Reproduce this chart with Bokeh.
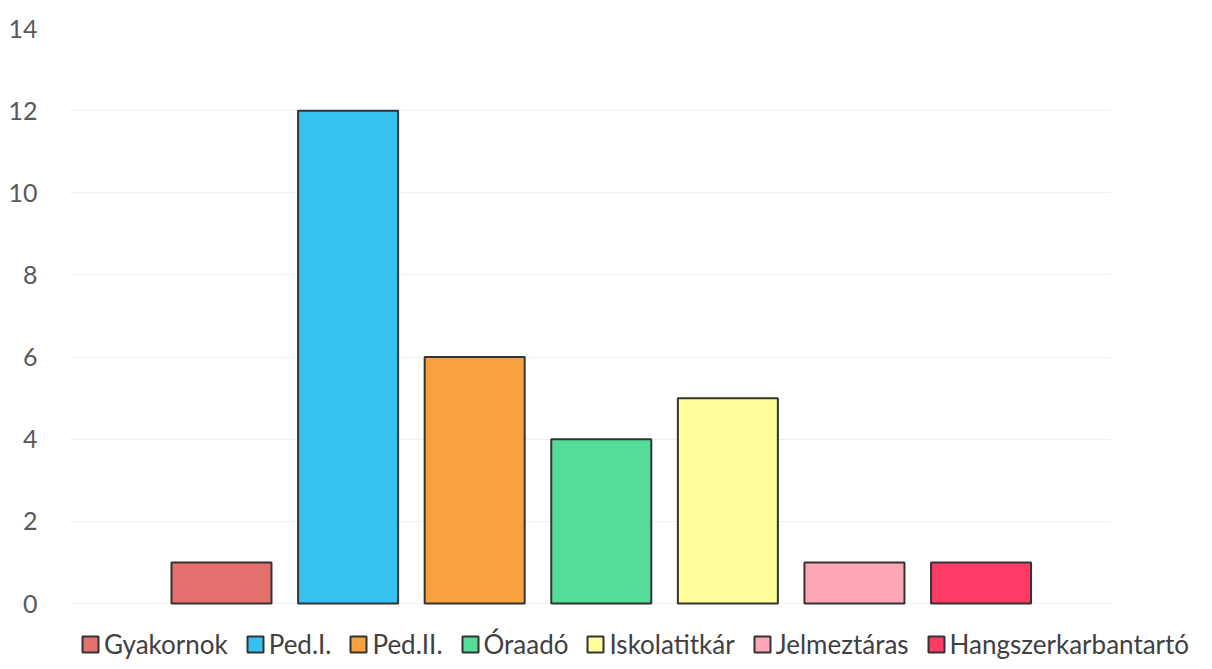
from bokeh.plotting import figure
from bokeh.models import ColumnDataSource, Legend, LegendItem, FixedTicker, Range1d
from bokeh.embed import file_html
from bokeh.resources import INLINE

categories = ["Gyakornok", "Ped.I.", "Ped.II.", "Óraadó", "Iskolatitkár", "Jelmeztáras", "Hangszerkarbantartó"]
counts = [1, 12, 6, 4, 5, 1, 1]
colors = ["#E5716F", "#35C2F0", "#F9A141", "#55DC98", "#FFFD9A", "#FCA6B6", "#FF3C65"]
y_ticks = [0, 2, 4, 6, 8, 10, 12, 14]

positions = list(range(len(categories)))
source = ColumnDataSource(dict(x=positions, top=counts, color=colors, cat=categories))

# frame extends below zero so the legend can sit inside it, under the bars
p = figure(width=1204, height=661, output_backend="svg", toolbar_location=None,
           x_range=Range1d(-1.2006, 7.765), y_range=Range1d(-1.412, 14),
           min_border_left=69, min_border_right=0, min_border_top=28, min_border_bottom=0)
p.outline_line_color = None
p.background_fill_color = "white"

r = p.vbar(x="x", top="top", width=0.79, bottom=0, source=source,
           fill_color="color", line_color="#333333", line_width=2)

p.xaxis.visible = False
p.xgrid.grid_line_color = None
p.ygrid.grid_line_color = "#f0f0f0"
p.ygrid.ticker = FixedTicker(ticks=y_ticks)
p.ygrid.cross_bounds = (-1.2006, 7.02)

ax = p.yaxis[0]
ax.ticker = FixedTicker(ticks=y_ticks)
ax.axis_line_color = None
ax.major_tick_line_color = None
ax.minor_tick_line_color = None
ax.major_label_standoff = 26
ax.major_label_text_font = "Lato"
ax.major_label_text_font_size = "25px"
ax.major_label_text_color = "#595959"

items = [LegendItem(label=c, renderers=[r], index=i) for i, c in enumerate(categories)]
legend = Legend(items=items, orientation="horizontal", location=(11, 1),
                glyph_width=20, glyph_height=20, label_standoff=4, spacing=17,
                padding=0, margin=0, border_line_color=None, background_fill_alpha=0,
                label_text_font="Lato", label_text_font_size="26px", label_text_color="#404040",
                label_height=20)
p.add_layout(legend, "center")

open("out.html", "w").write(file_html(p, INLINE))
